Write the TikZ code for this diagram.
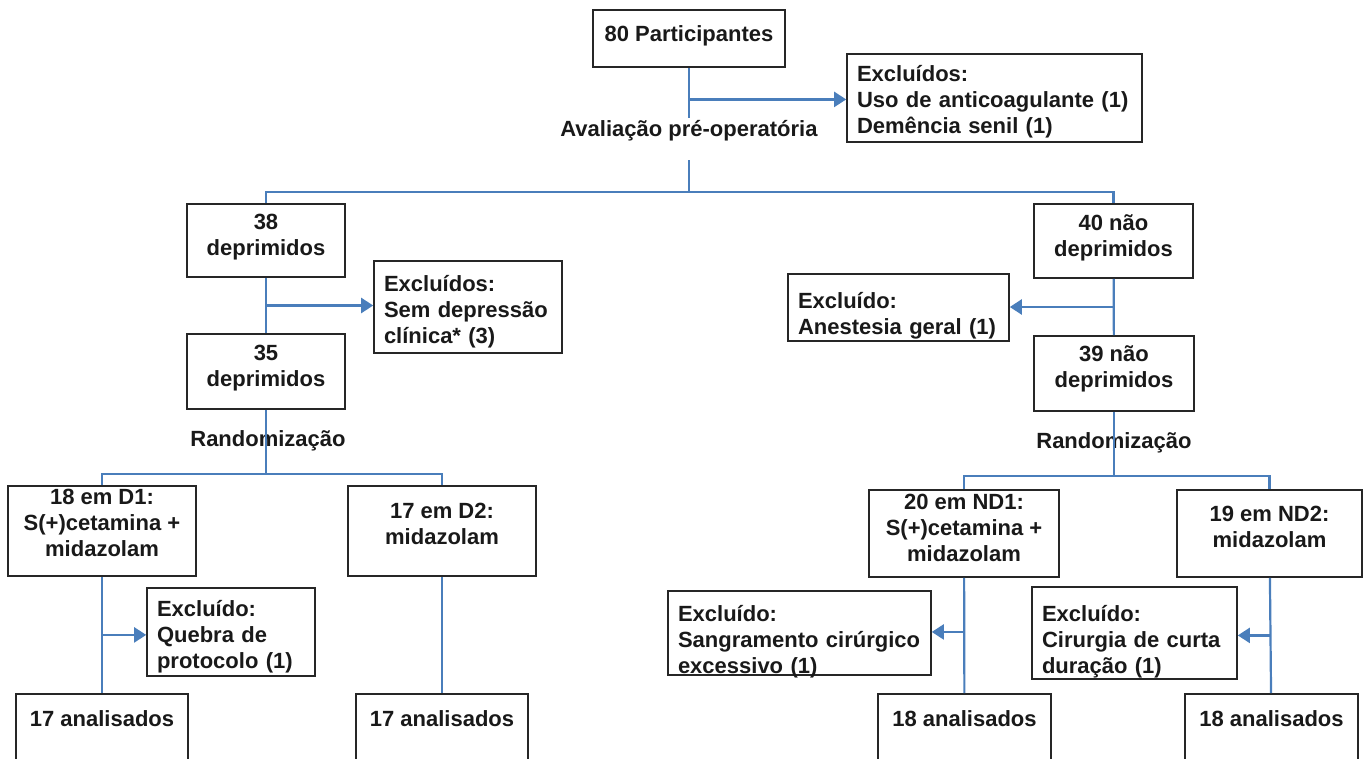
\documentclass[tikz,border=0pt]{standalone}
\usepackage{fontspec}
\setmainfont{Liberation Sans}
\usetikzlibrary{arrows.meta}
\definecolor{linkblue}{RGB}{74,126,187}
\definecolor{boxgray}{RGB}{38,38,38}
\newcommand{\boxlines}[2][4pt]{\raisebox{#1}[\height][\depth]{\begin{tabular}{@{}c@{}}#2\end{tabular}}}
\newcommand{\excllines}[2][-5pt]{\raisebox{#1}[\height][\depth]{\begin{tabular}{@{}l@{}}#2\end{tabular}}}

\begin{document}
\begin{tikzpicture}[x=1pt,y=-1pt,every node/.style={font=\bfseries\fontsize{22}{26}\selectfont,text=black!90},box/.style n args={2}{draw=boxgray,line width=1.6pt,inner sep=0pt,minimum width=#1,minimum height=#2},excl/.style n args={2}{draw=boxgray,line width=1.6pt,align=left,inner xsep=10pt,inner ysep=0pt,text width=#1,minimum height=#2},final/.style={draw=boxgray,line width=1.6pt,anchor=north,inner sep=0pt,minimum width=#1,text height=33pt,text depth=60pt},link/.style={draw=linkblue,line width=2.2pt},arr/.style={link,-{Triangle[length=12pt,width=15pt]}}]
\useasboundingbox (0,0) rectangle (1366,758);
\clip (0,0) rectangle (1366,758);
\node[box={192pt}{57pt}](top) at (689,38.5) {\boxlines[2pt]{80 Participantes}};
\node[excl={275pt}{88pt}](ex0) at (994.5,98) {\excllines[-4pt]{Excluídos:\\Uso de anticoagulante (1)\\Demência senil (1)}};
\node[inner sep=0pt](aval) at (689,131) {Avaliação pré-operatória};
\coordinate (avtop) at (689,118);
\coordinate (avbot) at (689,160);
\coordinate (split) at (689,192);
\node[box={158pt}{73pt}](d38) at (266,240.5) {\boxlines[3pt]{38\\deprimidos}};
\node[excl={168pt}{92pt}](ex1) at (468,307) {\excllines{Excluídos:\\Sem depressão\\clínica* (3)}};
\node[box={158pt}{75pt}](d35) at (266,371.5) {\boxlines[3pt]{35\\deprimidos}};
\node[inner sep=0pt](randD) at (268,441) {Randomização};
\coordinate (splitD) at (266,474);
\node[box={188pt}{90pt}](d1) at (102,531) {\boxlines[6pt]{18 em D1:\\S(+)cetamina +\\midazolam}};
\node[box={188pt}{90pt}](d2) at (442,531) {\boxlines[5pt]{17 em D2:\\midazolam}};
\node[excl={148pt}{88pt}](ex2) at (231,632) {\excllines{Excluído:\\Quebra de\\protocolo (1)}};
\node[final=172pt](an1) at (102,693) {17 analisados};
\node[final=172pt](an2) at (442,693) {17 analisados};
\node[box={159pt}{74pt}](nd40) at (1113.5,241) {\boxlines[3pt]{40 não\\deprimidos}};
\node[excl={201pt}{67pt}](exr1) at (898.5,307.5) {\excllines[-9pt]{Excluído:\\Anestesia geral (1)}};
\node[box={160pt}{75pt}](nd39) at (1114,373.5) {\boxlines{39 não\\deprimidos}};
\node[inner sep=0pt](randN) at (1114,443) {Randomização};
\coordinate (splitN) at (1114,476);
\node[box={190pt}{87pt}](nd1) at (964,533.5) {\boxlines[3pt]{20 em ND1:\\S(+)cetamina +\\midazolam}};
\node[box={185pt}{87pt}](nd2) at (1269.5,533.5) {\boxlines{19 em ND2:\\midazolam}};
\node[excl={243pt}{84pt}](exr2) at (799.5,633) {\excllines[-9pt]{Excluído:\\Sangramento cirúrgico\\excessivo (1)}};
\node[excl={185pt}{92pt}](exr3) at (1134.5,633) {\excllines[-9pt]{Excluído:\\Cirurgia de curta\\duração (1)}};
\node[final=173pt](an3) at (964.5,693) {18 analisados};
\node[final=173pt](an4) at (1271.5,693) {18 analisados};
\draw[link] (top) -- coordinate[pos=.63] (c0) (avtop);
\draw[arr] (c0) -- (c0 -| ex0.west);
\draw[link] (avbot) -- (split);
\draw[link] (d38) -- (d38 |- split) -- (nd40 |- split) -- (nd40);
\draw[link] (d38) -- coordinate (c1) (d35);
\draw[arr] (c1) -- (c1 -| ex1.west);
\draw[link] (d35) -- (splitD);
\draw[link] (d1) -- (d1 |- splitD) -- (d2 |- splitD) -- (d2);
\draw[link] (d1) -- coordinate (c2) (an1);
\draw[arr] (c2) -- (c2 -| ex2.west);
\draw[link] (d2) -- (an2);
\draw[link] (nd40) -- coordinate (c3) (nd39);
\draw[arr] (c3) -- (c3 -| exr1.east);
\draw[link] (nd39) -- (splitN);
\draw[link] (nd1) -- (nd1 |- splitN) -- (nd2 |- splitN) -- (nd2);
\draw[link] (nd1) -- coordinate[pos=.47] (c4) (an3);
\draw[arr] (c4) -- (c4 -| exr2.east);
\draw[link] (nd2) -- coordinate (c5) (an4);
\draw[arr] (c5) -- (c5 -| exr3.east);
\end{tikzpicture}
\end{document}
